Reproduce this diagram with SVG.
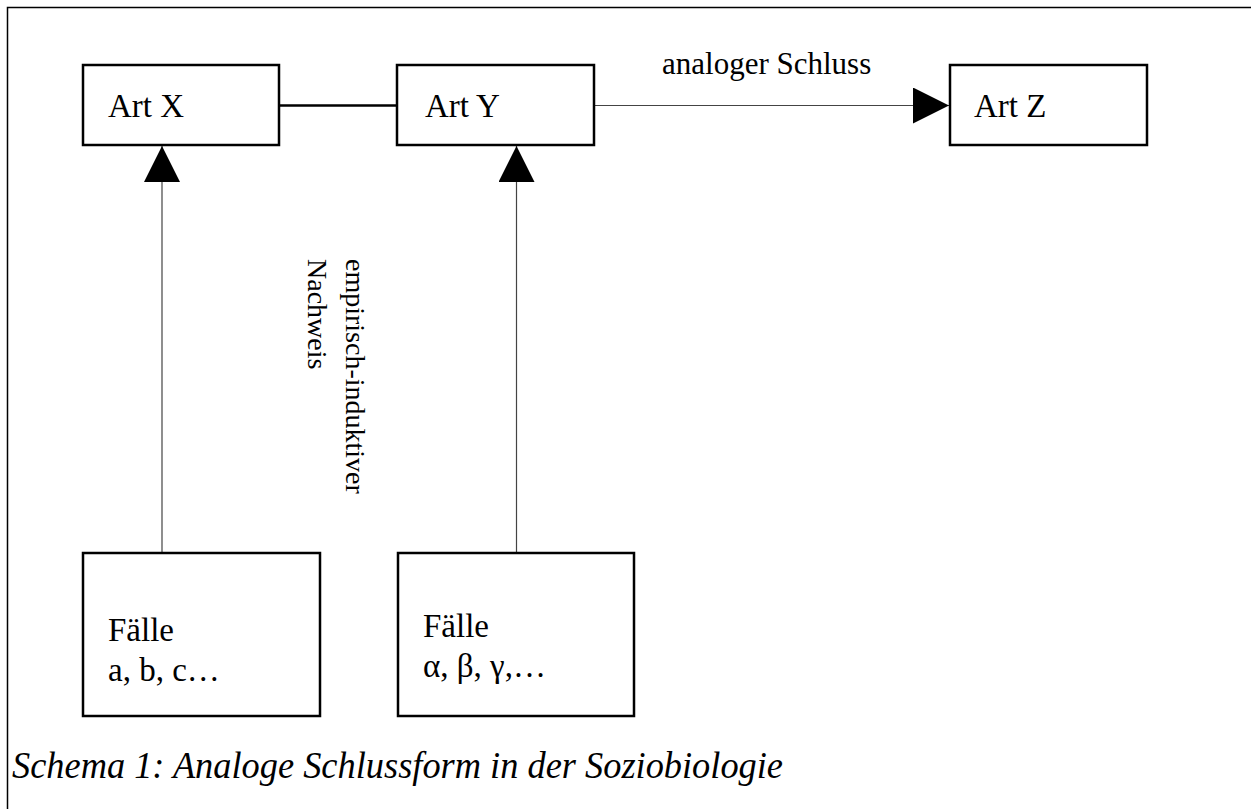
<svg xmlns="http://www.w3.org/2000/svg" width="1251" height="809" viewBox="0 0 1251 809">
<style>
.box{fill:#fff;stroke:#000;stroke-width:2.5}
.t{font-family:'Liberation Serif','Times New Roman','DejaVu Serif',serif;font-size:33px;fill:#000}
.thin{stroke:#444;stroke-width:1.2;fill:none}
.thick{stroke:#000;stroke-width:2.5;fill:none}
.frame{stroke:#000;stroke-width:1.5;fill:none}
</style>
<defs>
<marker id="ah" markerUnits="userSpaceOnUse" markerWidth="36" markerHeight="36" viewBox="0 0 36 36" refX="36" refY="18" orient="auto">
<path d="M0,0 L36,18 L0,36 Z" fill="#000"/>
</marker>
</defs>
<rect width="1251" height="809" fill="#fff"/>
<path class="frame" d="M7.5,820 V7.5 H1260"/>
<g id="connectors">
<line class="thick" x1="279" y1="105.5" x2="397" y2="105.5"/>
<line class="thin" x1="594" y1="105.5" x2="949" y2="105.5" marker-end="url(#ah)"/>
<line class="thin" x1="162" y1="553" x2="162" y2="146" marker-end="url(#ah)"/>
<line class="thin" x1="516.5" y1="553" x2="516.5" y2="146" marker-end="url(#ah)"/>
</g>
<g id="artX"><rect class="box" x="83" y="65" width="196" height="80"/><text class="t" x="108" y="117">Art X</text></g>
<g id="artY"><rect class="box" x="397" y="65" width="197" height="80"/><text class="t" x="425" y="117">Art Y</text></g>
<g id="artZ"><rect class="box" x="950" y="65" width="197" height="80"/><text class="t" x="974" y="117">Art Z</text></g>
<g id="label-analog"><text class="t" style="font-size:31px" x="662" y="74">analoger Schluss</text></g>
<g id="label-empirisch"><text class="t" style="font-size:28px" transform="translate(346,259) rotate(90)"><tspan x="0" y="0">empirisch-induktiver</tspan><tspan x="0" y="38">Nachweis</tspan></text></g>
<g id="faelle1"><rect class="box" x="83" y="553" width="237" height="163"/><text class="t"><tspan x="108" y="641">Fälle</tspan><tspan x="108" y="681">a, b, c…</tspan></text></g>
<g id="faelle2"><rect class="box" x="398" y="553" width="236" height="163"/><text class="t"><tspan x="423" y="637">Fälle</tspan><tspan x="423" y="677">α, β, γ,…</tspan></text></g>
<g id="caption"><text class="t" style="font-style:italic;font-size:37px" x="12" y="778" textLength="771" lengthAdjust="spacingAndGlyphs">Schema 1: Analoge Schlussform in der Soziobiologie</text></g>
</svg>
